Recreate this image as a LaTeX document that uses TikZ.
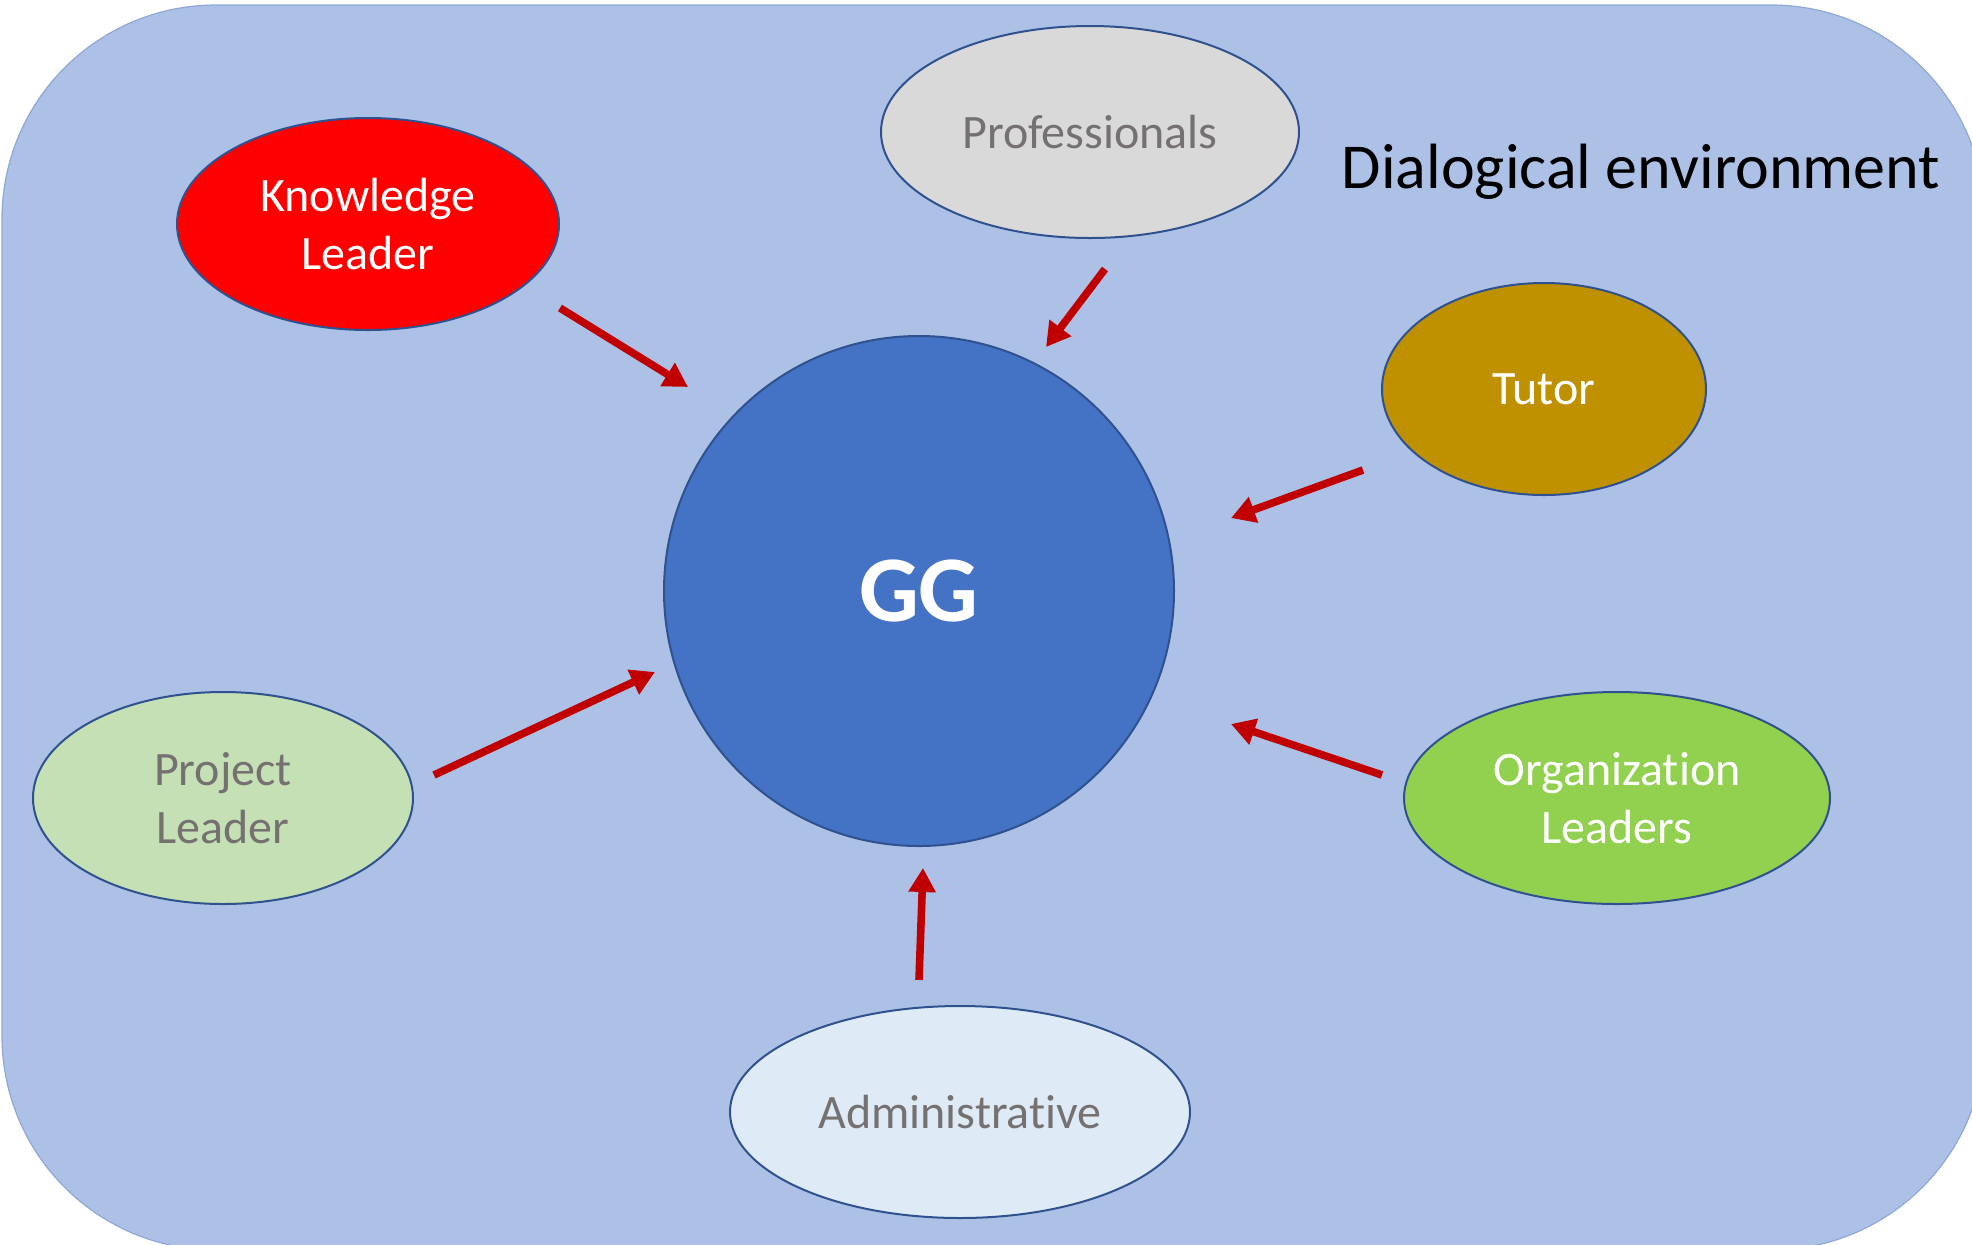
\documentclass[tikz,border=0pt]{standalone}
\usepackage{fontspec}
\setmainfont{Carlito}[Ligatures=NoCommon]
\usetikzlibrary{arrows.meta,shapes.geometric}
\definecolor{envblue}{RGB}{173,192,230}
\definecolor{envline}{RGB}{143,168,214}
\definecolor{ggblue}{RGB}{68,114,196}
\definecolor{rimblue}{RGB}{47,82,143}
\definecolor{arrred}{RGB}{192,0,0}
\definecolor{txtgray}{RGB}{118,113,113}
\definecolor{profgray}{RGB}{217,217,217}
\definecolor{tutorgold}{RGB}{191,144,0}
\definecolor{projgreen}{RGB}{197,224,180}
\definecolor{orggreen}{RGB}{146,208,80}
\definecolor{adminblue}{RGB}{222,235,247}

\begin{document}
\begin{tikzpicture}[
  x=0.5pt,y=-0.5pt,
  font=\fontsize{24}{29}\selectfont,
  role/.style={ellipse,draw=rimblue,line width=1pt,inner sep=0pt,align=center,
               minimum height=106pt},
  arr/.style={-{Triangle[length=12pt,width=13pt]},arrred,line width=3.8pt}
]
\useasboundingbox (0,0) rectangle (1972,1244);
\clip (0,0) rectangle (1972,1244);
% the surrounding environment, running off the right and bottom edges
\filldraw[fill=envblue,draw=envline,line width=.6pt,rounded corners=107pt]
  (2,5) rectangle (1985,1250);
\node[font=\fontsize{32}{38}\selectfont,anchor=base] (env) at (1641,188) {Dialogical environment};

\node[circle,draw=rimblue,line width=1pt,fill=ggblue,minimum size=255pt,inner sep=0pt,
      text=white,font=\bfseries\fontsize{47}{56}\selectfont] (gg) at (919,591) {GG};

\node[role,fill=red,text=white,minimum width=191pt] (kl) at (368,224) {Knowledge\\Leader};
\node[role,fill=profgray,text=txtgray,minimum width=209pt] (prof) at (1090,132) {Professionals};
\node[role,fill=tutorgold,text=white,minimum width=162pt] (tutor) at (1544,389) {Tutor};
\node[role,fill=projgreen,text=txtgray,minimum width=190pt] (proj) at (223,798) {Project\\Leader};
\node[role,fill=orggreen,text=white,minimum width=213pt] (org) at (1617,798) {Organization\\Leaders};
\node[role,fill=adminblue,text=txtgray,minimum width=230pt] (admin) at (960,1112) {Administrative};

% arrow ends sit in the gaps between the roles and GG
\coordinate (kl-a) at (560,308);     \coordinate (kl-b) at (688,387);
\coordinate (prof-a) at (1105,269);  \coordinate (prof-b) at (1046,347);
\coordinate (tutor-a) at (1363,470); \coordinate (tutor-b) at (1231,518);
\coordinate (proj-a) at (434,775);   \coordinate (proj-b) at (655,672);
\coordinate (org-a) at (1382,775);   \coordinate (org-b) at (1231,724);
\coordinate (admin-a) at (919,980);  \coordinate (admin-b) at (923,868);
\draw[arr] (kl-a)--(kl-b); \draw[arr] (prof-a)--(prof-b);
\draw[arr] (tutor-a)--(tutor-b); \draw[arr] (proj-a)--(proj-b);
\draw[arr] (org-a)--(org-b); \draw[arr] (admin-a)--(admin-b);
\end{tikzpicture}
\end{document}
